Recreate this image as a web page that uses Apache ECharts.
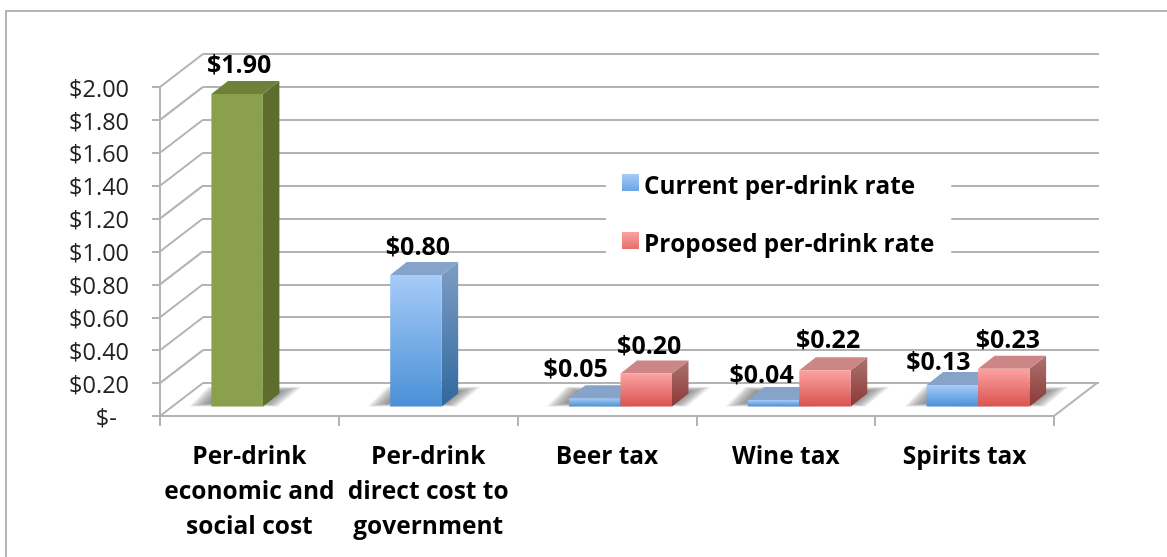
<!DOCTYPE html>
<html><head><meta charset="utf-8">
<style>html,body{margin:0;padding:0;background:#fff}#c{width:1167px;height:557px}</style>
<script src="https://cdn.jsdelivr.net/npm/echarts@6/dist/echarts.min.js"></script>
</head><body><div id="c"></div>
<script>
const categories = ["Per-drink\neconomic and\nsocial cost","Per-drink\ndirect cost to\ngovernment","Beer tax","Wine tax","Spirits tax"];
const currentRate = [1.90,0.80,0.05,0.04,0.13];
const proposedRate = [null,null,0.20,0.22,0.23];
const yTicks = [0,0.2,0.4,0.6,0.8,1.0,1.2,1.4,1.6,1.8,2.0];
const nameCurrent = "Current per-drink rate";
const nameProposed = "Proposed per-drink rate";

const FONT = "Open Sans";
const WALL_DX = 43, WALL_DY = 33;      // 3D wall depth
const BAR_DX = 16.5, BAR_DY = 13;      // bar depth
const BASE_DX = 13.5, BASE_DY = 9.5;   // bar set-back on the floor
const BAR_FRAC = 0.288;
const grad = (a,b)=>({type:'linear',x:0,y:0,x2:0,y2:1,colorStops:[{offset:0,color:a},{offset:1,color:b}]});
const BLUE = {front:grad('#a6cbf8','#4a90d6'),side:grad('#7f9dc4','#2f689e'),top:'#86a3ca'};
const RED  = {front:grad('#fba3a2','#d9534f'),side:grad('#ab7471','#8c3734'),top:'#cc8685'};
const GREEN= {front:'#8aa04c',side:'#5e6c2e',top:'#6f8139'};
// hand-placed label nudges seen in the reference [dx, dy from front top of bar]
const labelNudge = {
  current:[[2,-28],[2,-27],[-19,-28],[-12,-24],[-14,-22]],
  proposed:[[0,0],[0,0],[3,-27],[3,-29],[4,-28]]
};
// legend swatch sits in the upper part of its row, as in the reference
const SWATCH = 'path://M0 0H17V17H0ZM0 26L17 26';

function barGeom(api, isFirst){
  const i = api.value(0), v = api.value(1);
  if (v==null || isNaN(v)) return null;
  const w = api.size([1,0])[0]*BAR_FRAC;
  const base = api.coord([i,0]), top = api.coord([i,v]);
  const x0 = base[0]+BASE_DX-(isFirst?w:0), x1 = x0+w;
  return {i,v,x0,x1,y0:base[1]-BASE_DY,y1:top[1]-BASE_DY};
}
function barRender(isFirst){
  return function(p,api){
    const g = barGeom(api,isFirst); if(!g) return;
    const {x0,x1,y0,y1,v,i} = g;
    const c = isFirst ? (i===0?GREEN:BLUE) : RED;
    const n = (isFirst?labelNudge.current:labelNudge.proposed)[i];
    return {type:'group',children:[
      {type:'polygon',shape:{points:[[x1,y1],[x1+BAR_DX,y1-BAR_DY],[x1+BAR_DX,y0-BAR_DY],[x1,y0]]},style:{fill:c.side}},
      {type:'polygon',shape:{points:[[x0,y1],[x1,y1],[x1+BAR_DX,y1-BAR_DY],[x0+BAR_DX,y1-BAR_DY]]},style:{fill:c.top}},
      {type:'rect',shape:{x:x0,y:y1,width:x1-x0,height:y0-y1},style:{fill:c.front}},
      {type:'text',style:{text:'$'+v.toFixed(2),x:(x0+x1)/2+n[0],y:y1+n[1],align:'center',verticalAlign:'middle',font:'bold 25px "'+FONT+'"',fill:'#000'}}
    ]};
  };
}
function shadowRender(isFirst){
  return function(p,api){
    const g = barGeom(api,isFirst); if(!g) return;
    const {x0,x1,y0} = g;
    const kids = [];
    for (let k=6;k>=0;k--){
      const e = k*3;
      kids.push({type:'polygon',
        shape:{points:[[x0-4-e,y0-3+k*0.5],[x1+4+e*0.6,y0-3+k*0.5],[x1+BAR_DX+4+e,y0-BAR_DY-3-k*0.6],[x0+8-e*0.6,y0-BAR_DY-3-k*0.6]]},
        style:{fill:'rgba(90,90,90,0.13)'}});
    }
    return {type:'group',children:kids};
  };
}
function wallRender(p,api){
  const v = api.value(0);
  const y = api.coord([0,v])[1], r = p.coordSys, x = r.x;
  const kids = [{type:'line',shape:{x1:x,y1:y,x2:x+WALL_DX,y2:y-WALL_DY},style:{stroke:'#b3b3b3',lineWidth:2}}];
  if (v===0) kids.push({type:'line',shape:{x1:x+r.width,y1:y,x2:x+r.width+WALL_DX,y2:y-WALL_DY},style:{stroke:'#b3b3b3',lineWidth:2}});
  return {type:'group',children:kids};
}
const pair = arr => arr.map((v,i)=>[i,v]);

const chart = echarts.init(document.getElementById('c'),null,{renderer:'canvas'});
chart.setOption({
  animation:false,
  backgroundColor:'#fff',
  textStyle:{fontFamily:FONT},
  graphic:[{type:'rect',silent:true,z:0,shape:{x:6,y:11,width:1300,height:700},style:{fill:'none',stroke:'#b5b5b5',lineWidth:2}}],
  grid:[
    {left:160,right:113,top:87,height:329},
    {left:203,right:68,top:54,height:329}
  ],
  xAxis:[
    {type:'category',gridIndex:0,data:categories,
     axisLine:{lineStyle:{color:'#b3b3b3',width:2}},
     axisTick:{show:true,length:10,lineStyle:{color:'#b3b3b3',width:2}},
     axisLabel:{interval:0,color:'#000',fontFamily:FONT,fontWeight:'bold',fontSize:24.5,lineHeight:35,margin:24}},
    {type:'value',gridIndex:1,show:false,min:0,max:1}
  ],
  yAxis:[
    {type:'value',gridIndex:0,min:0,max:2,interval:0.2,
     axisLine:{show:true,lineStyle:{color:'#b3b3b3',width:2}},
     axisTick:{show:true,length:8,lineStyle:{color:'#b3b3b3',width:2}},
     splitLine:{show:false},
     axisLabel:{color:'#222',fontFamily:FONT,fontSize:23.5,margin:31,verticalAlign:'top',lineHeight:6,formatter:v=>v===0?'$-  ':'$'+v.toFixed(2)}},
    {type:'value',gridIndex:1,min:0,max:2,interval:0.2,
     axisLine:{show:false},axisTick:{show:false},axisLabel:{show:false},
     splitLine:{show:true,lineStyle:{color:'#b3b3b3',width:2}}}
  ],
  legend:{
    left:606,top:160,orient:'vertical',backgroundColor:'#fff',
    padding:[14,17,12,16],itemGap:32,itemWidth:17,itemHeight:26,
    selectedMode:false,z:5,
    textStyle:{color:'#000',fontFamily:FONT,fontWeight:'bold',fontSize:24.3,lineHeight:26},
    data:[
      {name:nameCurrent,icon:SWATCH,itemStyle:{color:BLUE.front}},
      {name:nameProposed,icon:SWATCH,itemStyle:{color:RED.front}}
    ]
  },
  series:[
    {type:'custom',name:'walls',z:1,silent:true,xAxisIndex:0,yAxisIndex:0,data:yTicks.map(v=>[v]),encode:{y:0},renderItem:wallRender},
    {type:'custom',name:'shadow1',z:2,silent:true,xAxisIndex:0,yAxisIndex:0,data:pair(currentRate),encode:{x:0,y:1},renderItem:shadowRender(true)},
    {type:'custom',name:'shadow2',z:2,silent:true,xAxisIndex:0,yAxisIndex:0,data:pair(proposedRate),encode:{x:0,y:1},renderItem:shadowRender(false)},
    {type:'custom',name:nameCurrent,z:3,itemStyle:{color:'#6ea6e6'},xAxisIndex:0,yAxisIndex:0,data:pair(currentRate),encode:{x:0,y:1},renderItem:barRender(true)},
    {type:'custom',name:nameProposed,z:4,itemStyle:{color:'#ee7c7a'},xAxisIndex:0,yAxisIndex:0,data:pair(proposedRate),encode:{x:0,y:1},renderItem:barRender(false)}
  ]
});
</script></body></html>
